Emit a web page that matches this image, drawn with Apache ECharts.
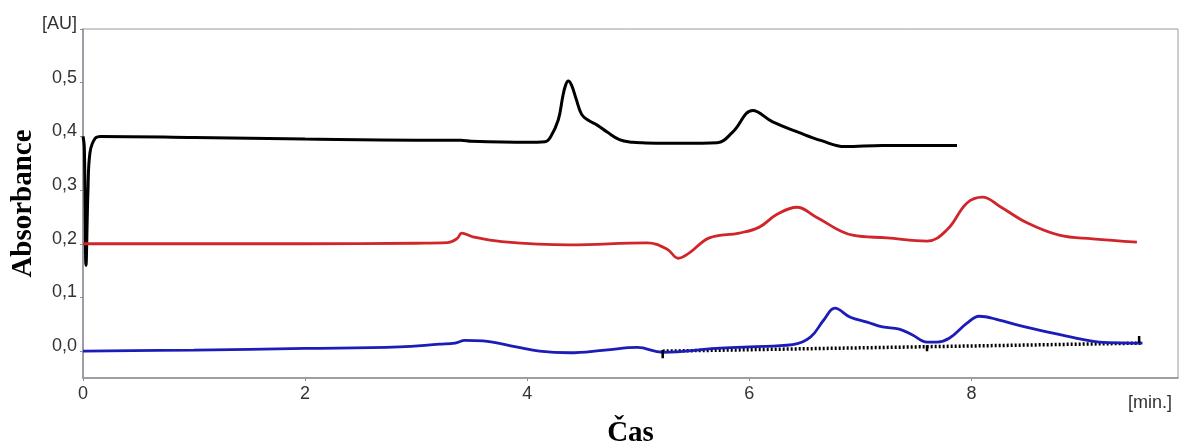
<!DOCTYPE html>
<html><head><meta charset="utf-8">
<script src="https://cdn.jsdelivr.net/npm/echarts@6/dist/echarts.min.js"></script>
<style>html,body{margin:0;padding:0;background:#fff}#c{width:1179px;height:445px}</style>
</head><body><div id="c"></div>
<script>
// Tick values and labels
const yTicks = [0, 0.1, 0.2, 0.3, 0.4, 0.5, 0.6];
const yTickLabels = ['0,0', '0,1', '0,2', '0,3', '0,4', '0,5', '[AU]'];
const xTicks = [0, 2, 4, 6, 8];
const xTickLabels = ['0', '2', '4', '6', '8'];

// Traces [time (min), absorbance (AU)]
const blackTrace = [
  [0, 0.400], [0.012, 0.380], [0.027, 0.160], [0.045, 0.300], [0.063, 0.370], [0.108, 0.396],
  [0.16, 0.400], [1.0, 0.398], [2.0, 0.395], [3.0, 0.393], [3.4, 0.393], [3.5, 0.391],
  [4.0, 0.389], [4.16, 0.390], [4.21, 0.399], [4.28, 0.431], [4.32, 0.474], [4.345, 0.495],
  [4.37, 0.503], [4.40, 0.495], [4.44, 0.470], [4.49, 0.441], [4.55, 0.430], [4.63, 0.421],
  [4.72, 0.408], [4.83, 0.394], [4.95, 0.389], [5.04, 0.388],
  [5.4, 0.387], [5.71, 0.388], [5.85, 0.408], [6.03, 0.448], [6.21, 0.427],
  [6.45, 0.407], [6.65, 0.392], [6.86, 0.381], [7.2, 0.383], [7.87, 0.383]
];
const redTrace = [
  [0, 0.200], [1.0, 0.200], [2.0, 0.200], [3.0, 0.201], [3.28, 0.202], [3.37, 0.210],
  [3.41, 0.220], [3.51, 0.213], [3.77, 0.204], [4.38, 0.198], [5.08, 0.2015], [5.26, 0.190],
  [5.36, 0.173], [5.46, 0.183], [5.64, 0.211], [5.91, 0.220], [6.09, 0.231], [6.25, 0.255],
  [6.43, 0.268], [6.6, 0.250], [6.93, 0.216], [7.24, 0.211], [7.6, 0.205], [7.78, 0.226],
  [7.96, 0.276], [8.1, 0.287], [8.26, 0.269], [8.5, 0.239], [8.79, 0.216], [9.09, 0.209],
  [9.49, 0.203]
];
const blueTrace = [
  [0, 0.000], [1.0, 0.002], [2.0, 0.005], [2.85, 0.008], [3.21, 0.013], [3.35, 0.015],
  [3.44, 0.020], [3.6, 0.019], [3.9, 0.008], [4.11, 0.000], [4.38, -0.003], [4.7, 0.002],
  [4.99, 0.007], [5.22, -0.002], [5.7, 0.005], [6.0, 0.008], [6.39, 0.012], [6.55, 0.026],
  [6.67, 0.058], [6.77, 0.080], [6.91, 0.063], [7.06, 0.054], [7.2, 0.045], [7.35, 0.041],
  [7.47, 0.030], [7.6, 0.017], [7.69, 0.017], [7.8, 0.024], [7.96, 0.052], [8.07, 0.065],
  [8.25, 0.058], [8.41, 0.049], [8.7, 0.035], [8.95, 0.024], [9.15, 0.017], [9.54, 0.015]
];
// Integration baseline (dotted) and peak markers
const baseline = [[5.22, 0.000], [9.54, 0.015]];
const markers = [
  [[5.22, 0.002], [5.22, -0.013]],
  [[7.6, 0.011], [7.6, 0.000]],
  [[9.51, 0.028], [9.51, 0.015]]
];

function labelFor(ticks, labels, v) {
  for (let i = 0; i < ticks.length; i++) if (Math.abs(ticks[i] - v) < 1e-6) return labels[i];
  return '';
}

const chart = echarts.init(document.getElementById('c'));
const axisColor = '#8e8e98';
const series = [
  { type: 'line', data: baseline, smooth: false, lineStyle: { color: '#000', width: 3.5, type: [2, 2] }, z: 1 },
  { type: 'line', data: blackTrace, lineStyle: { color: '#000', width: 3 } },
  { type: 'line', data: redTrace, lineStyle: { color: '#d0262b', width: 2.8 } },
  { type: 'line', data: blueTrace, lineStyle: { color: '#1c1cb8', width: 2.8 } }
].map(s => Object.assign({ showSymbol: false, symbol: 'none', smooth: 0.4 }, s));
markers.forEach(m => series.push({ type: 'line', data: m, showSymbol: false, symbol: 'none', lineStyle: { color: '#000', width: 2.5 } }));

chart.setOption({
  animation: false,
  backgroundColor: '#fff',
  grid: { left: 83, right: 1, top: 29, bottom: 67, containLabel: false, outerBoundsMode: 'none',
    show: true, borderColor: '#9a9a9a', borderWidth: 1, backgroundColor: 'transparent' },
  xAxis: {
    type: 'value', min: 0, max: 9.86,
    name: 'Čas', nameLocation: 'middle', nameGap: 41, nameMoveOverlap: false,
    nameTextStyle: { fontFamily: 'Liberation Serif', fontWeight: 'bold', fontSize: 29, color: '#000' },
    axisLine: { show: true, onZero: false, lineStyle: { color: axisColor, width: 1.5 } },
    axisTick: { show: true, length: 3, customValues: xTicks, lineStyle: { color: axisColor } },
    axisLabel: { customValues: xTicks, margin: 7, fontFamily: 'Liberation Sans', fontSize: 18, color: '#333',
      formatter: v => labelFor(xTicks, xTickLabels, v) },
    splitLine: { show: false }
  },
  yAxis: {
    type: 'value', min: -0.05, max: 0.6,
    name: 'Absorbance', nameLocation: 'middle', nameGap: 45, nameRotate: 90, nameMoveOverlap: false,
    nameTextStyle: { fontFamily: 'Liberation Serif', fontWeight: 'bold', fontSize: 29, color: '#000' },
    axisLine: { show: true, onZero: false, lineStyle: { color: axisColor, width: 1.5 } },
    axisTick: { show: true, length: 3, customValues: yTicks, lineStyle: { color: axisColor } },
    axisLabel: { customValues: yTicks, margin: 6, fontFamily: 'Liberation Sans', fontSize: 18, color: '#333',
      verticalAlign: 'bottom', lineHeight: 10,
      formatter: v => labelFor(yTicks, yTickLabels, v) },
    splitLine: { show: false }
  },
  graphic: [
    { type: 'text', left: 1128, top: 394, style: { text: '[min.]', fontFamily: 'Liberation Sans', fontSize: 18, fill: '#333' } }
  ],
  series
});
</script></body></html>
